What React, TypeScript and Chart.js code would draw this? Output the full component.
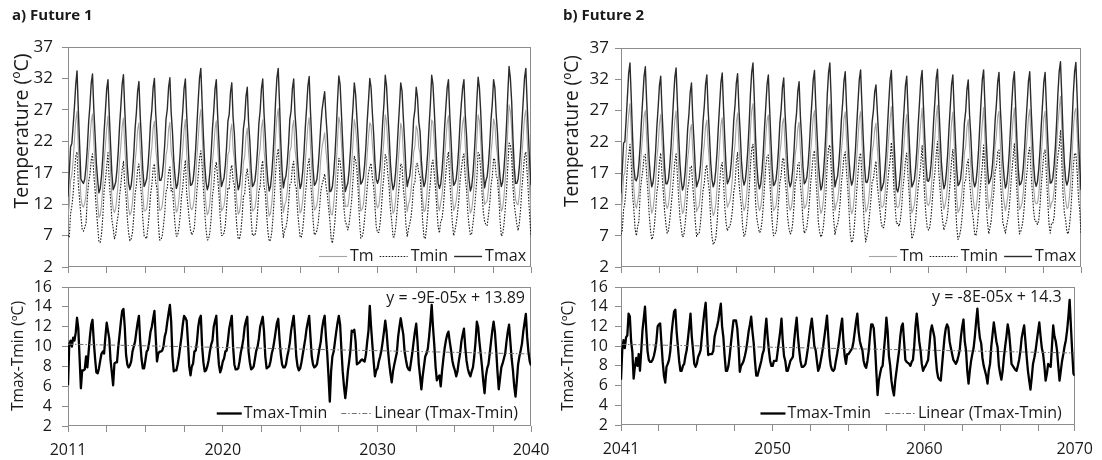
import React, { useEffect, useRef } from 'react';
import { Chart, registerables } from 'chart.js';

Chart.register(...registerables);

// ---------------- DATA ----------------
// Monthly Tmax (ºC), Future 1 (2011-2040), one row per year Jan..Dec
const TMAX_F1 = [
  13.2, 17.0, 21.1, 21.7, 24.5, 27.5, 31.0, 33.2, 27.0, 21.5, 16.0, 15.6,
  15.3, 16.0, 18.0, 21.0, 25.0, 27.7, 31.2, 32.7, 27.2, 23.0, 18.5, 15.8,
  13.8, 14.5, 16.5, 19.5, 23.5, 26.8, 30.3, 31.8, 26.3, 21.5, 17.0, 14.3,
  14.8, 15.5, 17.5, 20.5, 24.5, 27.6, 31.1, 32.6, 27.1, 22.5, 18.0, 15.3,
  14.3, 15.0, 17.0, 20.0, 24.0, 26.5, 30.0, 31.5, 26.0, 22.0, 17.5, 14.8,
  15.3, 16.0, 18.0, 21.0, 25.0, 27.0, 30.5, 32.0, 26.5, 23.0, 18.5, 15.8,
  15.8, 16.5, 18.5, 21.5, 25.5, 27.1, 30.6, 32.1, 26.6, 23.5, 19.0, 16.3,
  14.5, 15.2, 17.2, 20.2, 24.2, 26.9, 30.4, 31.9, 26.4, 22.2, 17.7, 15.0,
  15.1, 15.8, 17.8, 20.8, 24.8, 28.6, 32.1, 33.6, 28.1, 22.8, 18.3, 15.6,
  14.3, 15.0, 17.0, 20.0, 24.0, 26.8, 30.3, 31.8, 26.3, 22.0, 17.5, 14.8,
  15.5, 16.2, 18.2, 21.2, 25.2, 26.3, 29.8, 31.3, 25.8, 23.2, 18.7, 16.0,
  14.3, 15.0, 17.0, 20.0, 24.0, 25.6, 29.1, 30.6, 25.1, 22.0, 17.5, 14.8,
  15.1, 15.8, 17.8, 20.8, 24.8, 26.9, 30.4, 31.9, 26.4, 22.8, 18.3, 15.6,
  14.1, 14.8, 16.8, 19.8, 23.8, 28.6, 32.1, 33.6, 28.1, 21.8, 17.3, 14.6,
  15.8, 16.5, 18.5, 21.5, 25.5, 26.9, 30.4, 31.9, 26.4, 23.5, 19.0, 16.3,
  14.5, 15.2, 17.2, 20.2, 24.2, 27.3, 30.8, 32.3, 26.8, 22.2, 17.7, 15.0,
  15.3, 16.0, 18.0, 21.0, 24.5, 27.0, 28.5, 29.9, 26.0, 23.0, 18.5, 14.0,
  14.1, 14.8, 16.8, 19.8, 23.8, 28.5, 32.4, 31.0, 26.5, 21.8, 17.3, 14.0,
  14.7, 15.4, 17.4, 20.4, 24.4, 27.5, 31.3, 29.5, 25.8, 22.4, 17.9, 15.2,
  15.5, 16.2, 18.2, 21.2, 25.2, 28.5, 32.0, 30.5, 26.5, 23.2, 18.7, 16.0,
  15.3, 16.0, 18.0, 21.0, 25.0, 28.0, 32.5, 30.8, 26.5, 23.0, 18.5, 15.8,
  14.3, 15.0, 17.0, 20.0, 24.0, 27.5, 31.3, 30.0, 25.8, 22.0, 17.5, 14.8,
  15.8, 16.5, 18.5, 21.5, 25.5, 27.0, 30.6, 29.0, 25.1, 23.5, 19.0, 16.3,
  14.8, 15.5, 17.5, 20.5, 24.5, 28.0, 32.5, 31.0, 27.0, 22.5, 18.0, 15.3,
  14.5, 15.2, 17.2, 20.2, 24.2, 27.5, 30.5, 31.8, 26.3, 22.2, 17.7, 15.0,
  15.3, 16.0, 18.0, 21.0, 25.0, 28.0, 30.5, 31.8, 26.3, 23.0, 18.5, 15.8,
  14.1, 14.8, 16.8, 19.8, 23.8, 28.5, 32.2, 30.5, 26.7, 21.8, 17.3, 14.6,
  15.7, 16.4, 18.4, 21.4, 25.4, 28.0, 31.8, 30.5, 26.3, 23.4, 18.9, 16.2,
  14.8, 15.5, 17.5, 20.5, 24.5, 29.5, 33.9, 32.0, 28.4, 22.5, 18.0, 15.3,
  15.3, 16.0, 18.0, 21.0, 25.0, 28.6, 32.1, 33.6, 28.1, 23.0, 18.5, 15.0,
];

// Monthly Tmax-Tmin (ºC), Future 1
const DTR_F1 = [
  6.1, 10.3, 10.6, 10.0, 10.9, 10.6, 11.4, 12.9, 11.8, 8.8, 5.8, 7.6,
  7.6, 7.7, 9.0, 7.9, 9.5, 11.0, 12.2, 12.7, 10.5, 8.8, 7.4, 7.3,
  7.8, 8.6, 9.3, 9.5, 9.3, 11.0, 12.4, 11.6, 10.8, 8.6, 7.4, 6.1,
  8.3, 8.4, 8.4, 10.0, 11.2, 12.5, 13.6, 13.8, 12.0, 9.2, 8.2, 7.9,
  8.1, 8.5, 9.5, 10.0, 10.5, 11.5, 12.4, 13.1, 10.5, 8.8, 7.8, 7.8,
  8.6, 9.5, 9.7, 10.5, 11.5, 12.0, 12.8, 13.6, 11.0, 8.5, 9.3, 9.5,
  9.5, 9.6, 10.0, 11.0, 11.5, 12.5, 13.4, 14.2, 12.5, 9.0, 7.5, 7.6,
  7.6, 8.2, 9.0, 10.0, 11.0, 12.2, 13.1, 12.9, 12.6, 10.5, 8.0, 7.1,
  8.0, 8.3, 9.5, 9.6, 10.5, 12.0, 12.8, 13.1, 10.0, 8.4, 7.5, 7.6,
  8.0, 8.6, 9.5, 10.2, 10.6, 12.0, 12.6, 13.1, 10.0, 8.2, 7.4, 7.8,
  8.5, 8.8, 9.5, 9.6, 10.6, 11.8, 12.5, 13.1, 10.0, 8.2, 7.7, 7.7,
  7.8, 8.5, 9.4, 10.0, 10.8, 12.0, 12.6, 13.0, 9.5, 8.4, 7.7, 7.8,
  8.0, 8.8, 9.6, 10.0, 10.8, 12.0, 12.5, 13.0, 11.5, 9.0, 7.8, 7.9,
  8.0, 8.5, 9.3, 9.8, 10.6, 11.5, 12.4, 12.8, 10.8, 9.2, 8.2, 7.9,
  7.9, 8.2, 9.0, 9.6, 10.4, 11.6, 12.4, 13.1, 11.2, 9.0, 8.0, 7.6,
  7.8, 8.4, 9.2, 10.0, 10.8, 11.8, 12.5, 13.1, 11.0, 9.0, 8.2, 7.9,
  8.0, 8.2, 9.0, 9.8, 10.5, 11.8, 12.6, 13.1, 11.0, 9.3, 7.0, 4.45,
  7.5, 9.0, 9.5, 10.5, 11.5, 12.4, 13.1, 12.2, 9.7, 7.5, 6.0, 4.8,
  6.0, 7.5, 8.5, 9.65, 11.6, 11.5, 11.7, 10.5, 8.2, 8.3, 8.4, 8.6,
  8.7, 8.6, 8.5, 9.2, 10.5, 11.6, 14.1, 12.0, 10.2, 8.5, 7.0, 7.6,
  7.8, 8.5, 9.0, 9.6, 10.5, 11.5, 12.6, 11.5, 9.8, 8.4, 7.3, 6.4,
  7.5, 8.2, 8.8, 9.4, 11.0, 12.0, 12.85, 12.0, 11.2, 9.5, 8.7, 8.0,
  7.7, 7.6, 8.5, 9.4, 10.5, 11.5, 12.3, 10.5, 8.2, 7.0, 5.7, 7.0,
  8.0, 9.0, 9.3, 9.8, 11.0, 12.5, 14.2, 12.0, 10.2, 8.0, 6.6, 6.9,
  7.1, 6.0, 7.5, 8.7, 9.8, 10.6, 11.2, 11.5, 10.5, 9.65, 8.6, 8.0,
  7.6, 7.0, 7.5, 8.5, 9.3, 10.5, 11.2, 11.8, 10.0, 8.6, 7.8, 7.3,
  7.0, 7.5, 7.9, 9.0, 10.5, 12.5, 12.0, 10.5, 9.3, 8.0, 6.5, 5.3,
  7.0, 7.8, 8.2, 9.3, 10.5, 11.6, 12.5, 11.5, 9.65, 7.5, 5.7, 6.8,
  7.9, 8.3, 8.8, 9.3, 10.5, 11.5, 12.2, 10.5, 8.8, 7.6, 6.0, 4.95,
  6.5, 8.2, 9.0, 9.6, 10.3, 11.5, 12.4, 13.3, 11.0, 9.5, 8.5, 8.1,
];

// Monthly Tmax (ºC), Future 2 (2041-2070)
const TMAX_F2 = [
  13.8, 17.5, 21.8, 22.0, 25.5, 29.2, 33.0, 34.6, 29.0, 23.0, 18.0, 16.0,
  15.8, 16.5, 18.5, 21.5, 25.5, 29.0, 32.5, 34.0, 28.5, 23.5, 19.0, 16.3,
  14.8, 15.5, 17.5, 20.5, 24.5, 27.5, 31.0, 32.5, 27.0, 22.5, 18.0, 15.3,
  15.3, 16.0, 18.0, 21.0, 25.0, 28.8, 32.3, 33.8, 28.3, 23.0, 18.5, 15.8,
  14.3, 15.0, 17.0, 20.0, 24.0, 26.4, 29.9, 31.4, 25.9, 22.0, 17.5, 14.8,
  15.5, 16.2, 18.2, 21.2, 25.2, 27.7, 31.2, 32.7, 27.2, 23.2, 18.7, 16.0,
  14.8, 15.5, 17.5, 20.5, 24.5, 28.0, 31.5, 33.0, 27.5, 22.5, 18.0, 15.3,
  15.8, 16.5, 18.5, 21.5, 25.5, 27.9, 31.4, 32.9, 27.4, 23.5, 19.0, 16.3,
  15.1, 15.8, 17.8, 20.8, 24.8, 29.6, 33.1, 34.6, 29.1, 22.8, 18.3, 15.6,
  14.5, 15.2, 17.2, 20.2, 24.2, 27.7, 31.2, 32.7, 27.2, 22.2, 17.7, 15.0,
  15.3, 16.0, 18.0, 21.0, 25.0, 27.2, 30.7, 32.2, 26.7, 23.0, 18.5, 15.8,
  14.8, 15.5, 17.5, 20.5, 24.5, 26.6, 30.1, 31.6, 26.1, 22.5, 18.0, 15.3,
  15.6, 16.3, 18.3, 21.3, 25.3, 28.4, 31.9, 33.4, 27.9, 23.3, 18.8, 16.1,
  14.3, 15.0, 17.0, 20.0, 24.0, 29.6, 33.1, 34.6, 29.1, 22.0, 17.5, 14.8,
  15.8, 16.5, 18.5, 21.5, 25.5, 28.2, 31.7, 33.2, 27.7, 23.5, 19.0, 16.3,
  15.1, 15.8, 17.8, 20.8, 24.8, 28.5, 32.0, 33.5, 28.0, 22.8, 18.3, 15.6,
  15.5, 16.2, 18.2, 21.2, 25.2, 27.0, 30.0, 31.1, 27.0, 23.2, 18.7, 14.2,
  14.8, 15.5, 17.5, 20.5, 24.5, 28.4, 31.9, 33.4, 27.9, 22.5, 18.0, 14.5,
  14.0, 15.0, 17.0, 20.0, 24.0, 27.5, 31.0, 32.5, 27.0, 22.0, 17.5, 14.8,
  15.3, 16.0, 18.0, 21.0, 25.0, 28.4, 31.9, 33.4, 27.9, 23.0, 18.5, 15.8,
  15.7, 16.4, 18.4, 21.4, 25.4, 28.6, 32.1, 33.6, 28.1, 23.4, 18.9, 16.2,
  14.5, 15.2, 17.2, 20.2, 24.2, 27.7, 31.2, 32.7, 27.2, 22.2, 17.7, 15.0,
  15.3, 16.0, 18.0, 21.0, 25.0, 26.9, 30.4, 31.9, 26.4, 23.0, 18.5, 15.8,
  14.8, 15.5, 17.5, 20.5, 24.5, 28.5, 32.0, 33.5, 28.0, 22.5, 18.0, 15.3,
  15.8, 16.5, 18.5, 21.5, 25.5, 28.1, 31.6, 33.1, 27.6, 23.5, 19.0, 16.3,
  14.6, 15.3, 17.3, 20.3, 24.3, 28.2, 31.7, 33.2, 27.7, 22.3, 17.8, 15.1,
  15.3, 16.0, 18.0, 21.0, 25.0, 28.2, 31.7, 33.2, 27.7, 23.0, 18.5, 15.8,
  14.9, 15.6, 17.6, 20.6, 24.6, 28.1, 31.6, 33.1, 27.6, 22.6, 18.1, 15.4,
  15.5, 16.2, 18.2, 21.2, 25.2, 29.8, 33.3, 34.8, 29.3, 23.2, 18.7, 16.0,
  15.1, 15.8, 17.8, 20.8, 24.8, 29.7, 33.2, 34.7, 29.2, 22.8, 18.3, 14.3,
];

// Monthly Tmax-Tmin (ºC), Future 2
const DTR_F2 = [
  6.6, 9.6, 10.6, 9.8, 10.9, 11.1, 13.3, 13.0, 10.5, 9.4, 6.7, 7.9,
  8.8, 8.0, 9.2, 7.5, 9.5, 11.6, 12.8, 14.0, 11.6, 9.5, 8.6, 8.4,
  8.4, 8.6, 9.0, 9.6, 10.5, 12.0, 12.2, 12.3, 10.3, 8.4, 7.0, 6.3,
  7.9, 8.2, 8.6, 9.5, 11.3, 12.5, 13.5, 13.7, 11.5, 10.0, 8.5, 7.5,
  7.5, 8.0, 8.2, 9.0, 9.6, 10.8, 12.0, 13.3, 11.0, 9.6, 8.2, 7.9,
  8.2, 8.9, 9.2, 9.6, 11.0, 12.3, 13.5, 14.4, 11.6, 9.1, 9.2, 9.2,
  9.2, 9.5, 10.9, 11.5, 12.0, 12.6, 13.5, 14.3, 12.0, 10.9, 9.0, 7.5,
  7.5, 8.0, 9.0, 10.3, 11.5, 12.6, 12.6, 12.6, 11.8, 10.0, 7.4, 8.0,
  8.2, 8.5, 9.0, 9.6, 10.5, 11.5, 12.2, 13.0, 11.5, 10.3, 8.5, 7.0,
  7.0, 7.5, 8.0, 8.5, 9.2, 9.6, 11.5, 12.8, 11.0, 9.6, 8.5, 8.0,
  8.0, 8.5, 8.5, 8.5, 9.5, 10.5, 11.5, 12.8, 10.5, 9.0, 8.5, 7.5,
  7.5, 8.0, 8.5, 8.7, 8.9, 10.5, 11.8, 12.9, 11.0, 9.6, 8.5, 7.9,
  7.9, 8.0, 8.2, 9.0, 9.9, 11.0, 12.0, 12.8, 11.5, 10.0, 9.6, 8.5,
  7.5, 7.8, 8.5, 9.2, 10.0, 11.0, 12.0, 13.1, 11.0, 9.0, 8.0, 7.6,
  7.5, 7.7, 8.5, 9.2, 10.0, 11.0, 12.0, 12.8, 10.5, 9.0, 8.2, 9.2,
  9.2, 9.4, 9.6, 9.8, 10.5, 11.5, 12.5, 13.3, 11.5, 10.5, 10.0, 9.6,
  8.5, 8.0, 7.8, 8.5, 9.5, 11.0, 12.2, 12.2, 11.8, 10.0, 7.5, 5.04,
  6.5, 7.2, 7.8, 8.0, 9.5, 11.0, 12.9, 11.5, 9.0, 8.0, 6.5, 5.6,
  5.0, 6.5, 7.5, 8.5, 9.5, 11.0, 12.0, 12.3, 10.5, 8.6, 8.4, 8.3,
  8.2, 8.0, 8.4, 8.6, 10.0, 12.0, 13.3, 12.0, 10.5, 9.6, 8.2, 7.5,
  7.8, 8.0, 8.3, 8.6, 10.0, 11.5, 12.1, 11.5, 10.9, 9.0, 7.5, 6.8,
  6.6, 6.5, 8.0, 9.5, 10.9, 11.8, 12.2, 11.9, 10.5, 9.8, 9.2, 8.6,
  8.4, 8.2, 8.5, 9.0, 9.6, 11.0, 12.0, 12.7, 10.5, 9.6, 7.5, 6.2,
  7.5, 8.5, 9.2, 9.8, 11.0, 12.5, 13.8, 12.0, 10.8, 10.3, 8.8, 8.0,
  7.5, 7.0, 6.2, 7.5, 8.2, 10.0, 11.2, 12.4, 11.5, 10.5, 9.9, 8.0,
  7.2, 6.6, 7.5, 8.9, 10.0, 11.0, 12.2, 11.5, 10.0, 8.2, 8.0, 7.8,
  7.6, 7.5, 8.0, 8.6, 9.5, 10.8, 11.5, 12.1, 10.5, 8.9, 7.5, 6.5,
  5.6, 6.8, 8.2, 8.8, 9.5, 10.5, 11.5, 12.4, 11.0, 9.8, 9.2, 8.0,
  6.5, 7.2, 8.2, 8.0, 7.9, 10.0, 12.1, 11.0, 10.5, 9.6, 8.0, 6.5,
  7.5, 8.5, 9.2, 10.0, 10.6, 11.6, 13.0, 14.7, 12.0, 9.5, 7.2, 7.0,
];

// Linear trend equations printed on the chart (x = Excel date serial)
const TREND_SLOPE_F1 = -9e-5;
const TREND_INTERCEPT_F1 = 13.89;
const TREND_SLOPE_F2 = -8e-5;
const TREND_INTERCEPT_F2 = 14.3;
const EQUATION_F1 = 'y = -9E-05x + 13.89';
const EQUATION_F2 = 'y = -8E-05x + 14.3';

const START_YEAR_F1 = 2011;
const START_YEAR_F2 = 2041;

// x axis: month index ticks and labels
const X_TICK_POS = [0, 30, 60, 90, 120, 150, 180, 210, 240, 270, 300, 330, 359];
const X_LABEL_POS = [0, 120, 240, 359];
const X_LABELS_F1 = ['2011', '2020', '2030', '2040'];
const X_LABELS_F2 = ['2041', '2050', '2060', '2070'];

// y axes
const TEMP_MIN = 2, TEMP_MAX = 37, TEMP_STEP = 5;
const DTR_MIN = 2, DTR_MAX = 16, DTR_STEP = 2;

const PANEL_TITLES = ['a) Future 1', 'b) Future 2'];
const Y_TITLE_TEMP = 'Temperature (ºC)';
const Y_TITLE_DTR = 'Tmax-Tmin (ºC)';

// ---------------- STYLE / LAYOUT ----------------
const W = 1102;
const H = 460;
const FONT = "'Open Sans', 'DejaVu Sans', sans-serif";
const TEXT = '#1a1a1a';
const BOX = '#8c8c8c';
const YW = 40;

const STYLE_TMAX = { color: '#2b2b2b', width: 1.4, dash: [] as number[] };
const STYLE_TMIN = { color: '#1a1a1a', width: 1.1, dash: [1.6, 1.4] };
const STYLE_TM = { color: '#a3a3a3', width: 1.1, dash: [] as number[] };
const STYLE_DTR = { color: '#000000', width: 2.3, dash: [] as number[] };
const STYLE_TREND = { color: '#707070', width: 1, dash: [5, 2, 1.5, 2] };

// ---------------- helpers ----------------
const toXY = (arr: number[]) => arr.map((y, x) => ({ x, y }));
const tminOf = (tmax: number[], dtr: number[]) => tmax.map((v, i) => v - dtr[i]);
const tmOf = (tmax: number[], tmin: number[]) => tmax.map((v, i) => (v + tmin[i]) / 2);
const excelSerial = (year: number, month: number) =>
  (Date.UTC(year, month, 1) - Date.UTC(1899, 11, 30)) / 86400000;
const trendEnds = (startYear: number, n: number, slope: number, intercept: number) => {
  const last = n - 1;
  return [
    { x: 0, y: slope * excelSerial(startYear, 0) + intercept },
    { x: last, y: slope * excelSerial(startYear + Math.floor(last / 12), last % 12) + intercept },
  ];
};

const decorPlugin = {
  id: 'decor',
  beforeDatasetsDraw(chart: any) {
    const { ctx, chartArea: a } = chart;
    ctx.save();
    ctx.strokeStyle = BOX;
    ctx.lineWidth = 1;
    const l = Math.round(a.left) + 0.5;
    const t = Math.round(a.top) + 0.5;
    const r = Math.round(a.right) - 0.5;
    const b = Math.round(a.bottom) - 0.5;
    ctx.strokeRect(l, t, r - l, b - t);
    ctx.restore();
  },
  afterDraw(chart: any, _args: any, o: any) {
    const { ctx, chartArea: a } = chart;
    ctx.save();
    ctx.fillStyle = TEXT;
    if (o.title) {
      ctx.font = `bold ${o.title.size}px ${FONT}`;
      ctx.textAlign = 'left';
      ctx.textBaseline = 'middle';
      ctx.fillText(o.title.text, o.title.x, o.title.y);
    }
    if (o.yTitle) {
      const base = 20;
      ctx.font = `${base}px ${FONT}`;
      const w = ctx.measureText(o.yTitle.text).width;
      const size = (base * o.yTitle.length) / w;
      ctx.font = `${size}px ${FONT}`;
      ctx.save();
      ctx.translate(o.yTitle.x, o.yTitle.y);
      ctx.rotate(-Math.PI / 2);
      ctx.textAlign = 'center';
      ctx.textBaseline = 'middle';
      ctx.fillText(o.yTitle.text, 0, 0);
      ctx.restore();
    }
    if (o.equation) {
      ctx.font = `${o.equation.size}px ${FONT}`;
      ctx.textAlign = 'right';
      ctx.textBaseline = 'middle';
      ctx.fillText(o.equation.text, a.right - o.equation.inset, o.equation.y);
    }
    if (o.legend) {
      const lg = o.legend;
      ctx.font = `${lg.size}px ${FONT}`;
      ctx.textBaseline = 'middle';
      ctx.textAlign = 'left';
      let total = 0;
      lg.items.forEach((it: any, i: number) => {
        total += it.line + lg.gap + ctx.measureText(it.label).width;
        if (i < lg.items.length - 1) total += lg.spacing;
      });
      let x = a.right - lg.inset - total;
      const y = lg.y;
      lg.items.forEach((it: any) => {
        ctx.save();
        ctx.strokeStyle = it.style.color;
        ctx.lineWidth = it.style.width;
        ctx.setLineDash(it.style.dash);
        ctx.beginPath();
        ctx.moveTo(x, y + 0.5);
        ctx.lineTo(x + it.line, y + 0.5);
        ctx.stroke();
        ctx.restore();
        x += it.line + lg.gap;
        ctx.fillStyle = TEXT;
        ctx.fillText(it.label, x, y);
        x += ctx.measureText(it.label).width + lg.spacing;
      });
    }
    ctx.restore();
  },
};

type PanelSpec = {
  kind: 'temp' | 'dtr';
  left: number; right: number; top: number; bottom: number;
  tmax: number[]; dtr: number[];
  startYear: number; slope: number; intercept: number;
  xLabels: string[];
  yPad: number;
  decor: any;
};

const line = (s: any) => ({
  borderColor: s.color,
  borderWidth: s.width,
  borderDash: s.dash,
  pointRadius: 0,
  tension: 0,
  fill: false,
  borderJoinStyle: 'round' as const,
});

function buildChart(canvas: HTMLCanvasElement, p: PanelSpec) {
  const isTemp = p.kind === 'temp';
  const tmin = tminOf(p.tmax, p.dtr);
  const tm = tmOf(p.tmax, tmin);
  const datasets: any[] = isTemp
    ? [
        { label: 'Tmax', data: toXY(p.tmax), ...line(STYLE_TMAX) },
        { label: 'Tmin', data: toXY(tmin), ...line(STYLE_TMIN) },
        { label: 'Tm', data: toXY(tm), ...line(STYLE_TM) },
      ]
    : [
        { label: 'Linear (Tmax-Tmin)', data: trendEnds(p.startYear, p.dtr.length, p.slope, p.intercept), ...line(STYLE_TREND) },
        { label: 'Tmax-Tmin', data: toXY(p.dtr), ...line(STYLE_DTR) },
      ];
  const xh = isTemp ? 6 : 30;
  const xFont = { family: FONT, size: 16 };
  const yFont = { family: FONT, size: isTemp ? 17 : 16 };
  return new Chart(canvas, {
    type: 'line',
    data: { datasets },
    options: {
      responsive: false,
      animation: false,
      events: [],
      layout: {
        padding: {
          left: p.left - YW,
          right: W - p.right,
          top: p.top,
          bottom: H - p.bottom - xh,
        },
      },
      plugins: {
        legend: { display: false },
        tooltip: { enabled: false },
        decor: p.decor,
      } as any,
      scales: {
        x: {
          type: 'linear',
          min: 0,
          max: 359,
          afterFit: (s: any) => { s.height = xh; },
          afterBuildTicks: (s: any) => { s.ticks = X_TICK_POS.map((v) => ({ value: v })); },
          ticks: {
            display: !isTemp,
            autoSkip: false,
            maxRotation: 0,
            padding: 9,
            font: xFont,
            color: TEXT,
            callback: (v: any) => {
              const k = X_LABEL_POS.indexOf(Number(v));
              return k >= 0 ? p.xLabels[k] : '';
            },
          },
          grid: { drawOnChartArea: false, drawTicks: true, tickLength: 6, color: BOX },
          border: { display: false },
        },
        y: {
          min: isTemp ? TEMP_MIN : DTR_MIN,
          max: isTemp ? TEMP_MAX : DTR_MAX,
          afterFit: (s: any) => { s.width = YW; },
          ticks: {
            stepSize: isTemp ? TEMP_STEP : DTR_STEP,
            autoSkip: false,
            padding: p.yPad,
            font: yFont,
            color: TEXT,
          },
          grid: { drawOnChartArea: false, drawTicks: true, tickLength: 6, color: BOX },
          border: { display: false },
        },
      },
    } as any,
    plugins: [decorPlugin as any],
  });
}

const tempLegend = {
  size: 16, gap: 3, spacing: 6, inset: 5, y: 256,
  items: [
    { label: 'Tm', line: 28, style: STYLE_TM },
    { label: 'Tmin', line: 28, style: STYLE_TMIN },
    { label: 'Tmax', line: 28, style: STYLE_TMAX },
  ],
};
const dtrLegend = {
  size: 16, gap: 2, spacing: 14, inset: 13, y: 413,
  items: [
    { label: 'Tmax-Tmin', line: 25, style: STYLE_DTR },
    { label: 'Linear (Tmax-Tmin)', line: 31, style: STYLE_TREND },
  ],
};

const PANELS: PanelSpec[] = [
  {
    kind: 'temp', left: 68, right: 531, top: 47, bottom: 267,
    tmax: TMAX_F1, dtr: DTR_F1, startYear: START_YEAR_F1, slope: TREND_SLOPE_F1, intercept: TREND_INTERCEPT_F1,
    xLabels: X_LABELS_F1, yPad: 9,
    decor: {
      title: { text: PANEL_TITLES[0], x: 12, y: 16, size: 15 },
      yTitle: { text: Y_TITLE_TEMP, x: 22, y: 131, length: 155 },
      legend: tempLegend,
    },
  },
  {
    kind: 'dtr', left: 68, right: 531, top: 287, bottom: 426,
    tmax: TMAX_F1, dtr: DTR_F1, startYear: START_YEAR_F1, slope: TREND_SLOPE_F1, intercept: TREND_INTERCEPT_F1,
    xLabels: X_LABELS_F1, yPad: 10,
    decor: {
      yTitle: { text: Y_TITLE_DTR, x: 19, y: 356, length: 110 },
      equation: { text: EQUATION_F1, size: 16, inset: 6, y: 298 },
      legend: dtrLegend,
    },
  },
  {
    kind: 'temp', left: 621, right: 1081, top: 48, bottom: 267,
    tmax: TMAX_F2, dtr: DTR_F2, startYear: START_YEAR_F2, slope: TREND_SLOPE_F2, intercept: TREND_INTERCEPT_F2,
    xLabels: X_LABELS_F2, yPad: 6,
    decor: {
      title: { text: PANEL_TITLES[1], x: 563, y: 16, size: 15 },
      yTitle: { text: Y_TITLE_TEMP, x: 573, y: 131, length: 152 },
      legend: tempLegend,
    },
  },
  {
    kind: 'dtr', left: 621, right: 1081, top: 287, bottom: 425,
    tmax: TMAX_F2, dtr: DTR_F2, startYear: START_YEAR_F2, slope: TREND_SLOPE_F2, intercept: TREND_INTERCEPT_F2,
    xLabels: X_LABELS_F2, yPad: 7,
    decor: {
      yTitle: { text: Y_TITLE_DTR, x: 569, y: 356, length: 110 },
      equation: { text: EQUATION_F2, size: 16, inset: 13, y: 297 },
      legend: dtrLegend,
    },
  },
];

export default function App() {
  const canvases = useRef<(HTMLCanvasElement | null)[]>([]);
  useEffect(() => {
    const charts = PANELS.map((p, i) => buildChart(canvases.current[i] as HTMLCanvasElement, p));
    return () => charts.forEach((c) => c.destroy());
  }, []);
  return (
    <div style={{ position: 'absolute', left: 0, top: 0, width: W, height: H, background: '#fff', overflow: 'hidden' }}>
      {PANELS.map((_, i) => (
        <canvas
          key={i}
          ref={(el) => { canvases.current[i] = el; }}
          width={W}
          height={H}
          style={{ position: 'absolute', left: 0, top: 0, width: W, height: H }}
        />
      ))}
    </div>
  );
}
